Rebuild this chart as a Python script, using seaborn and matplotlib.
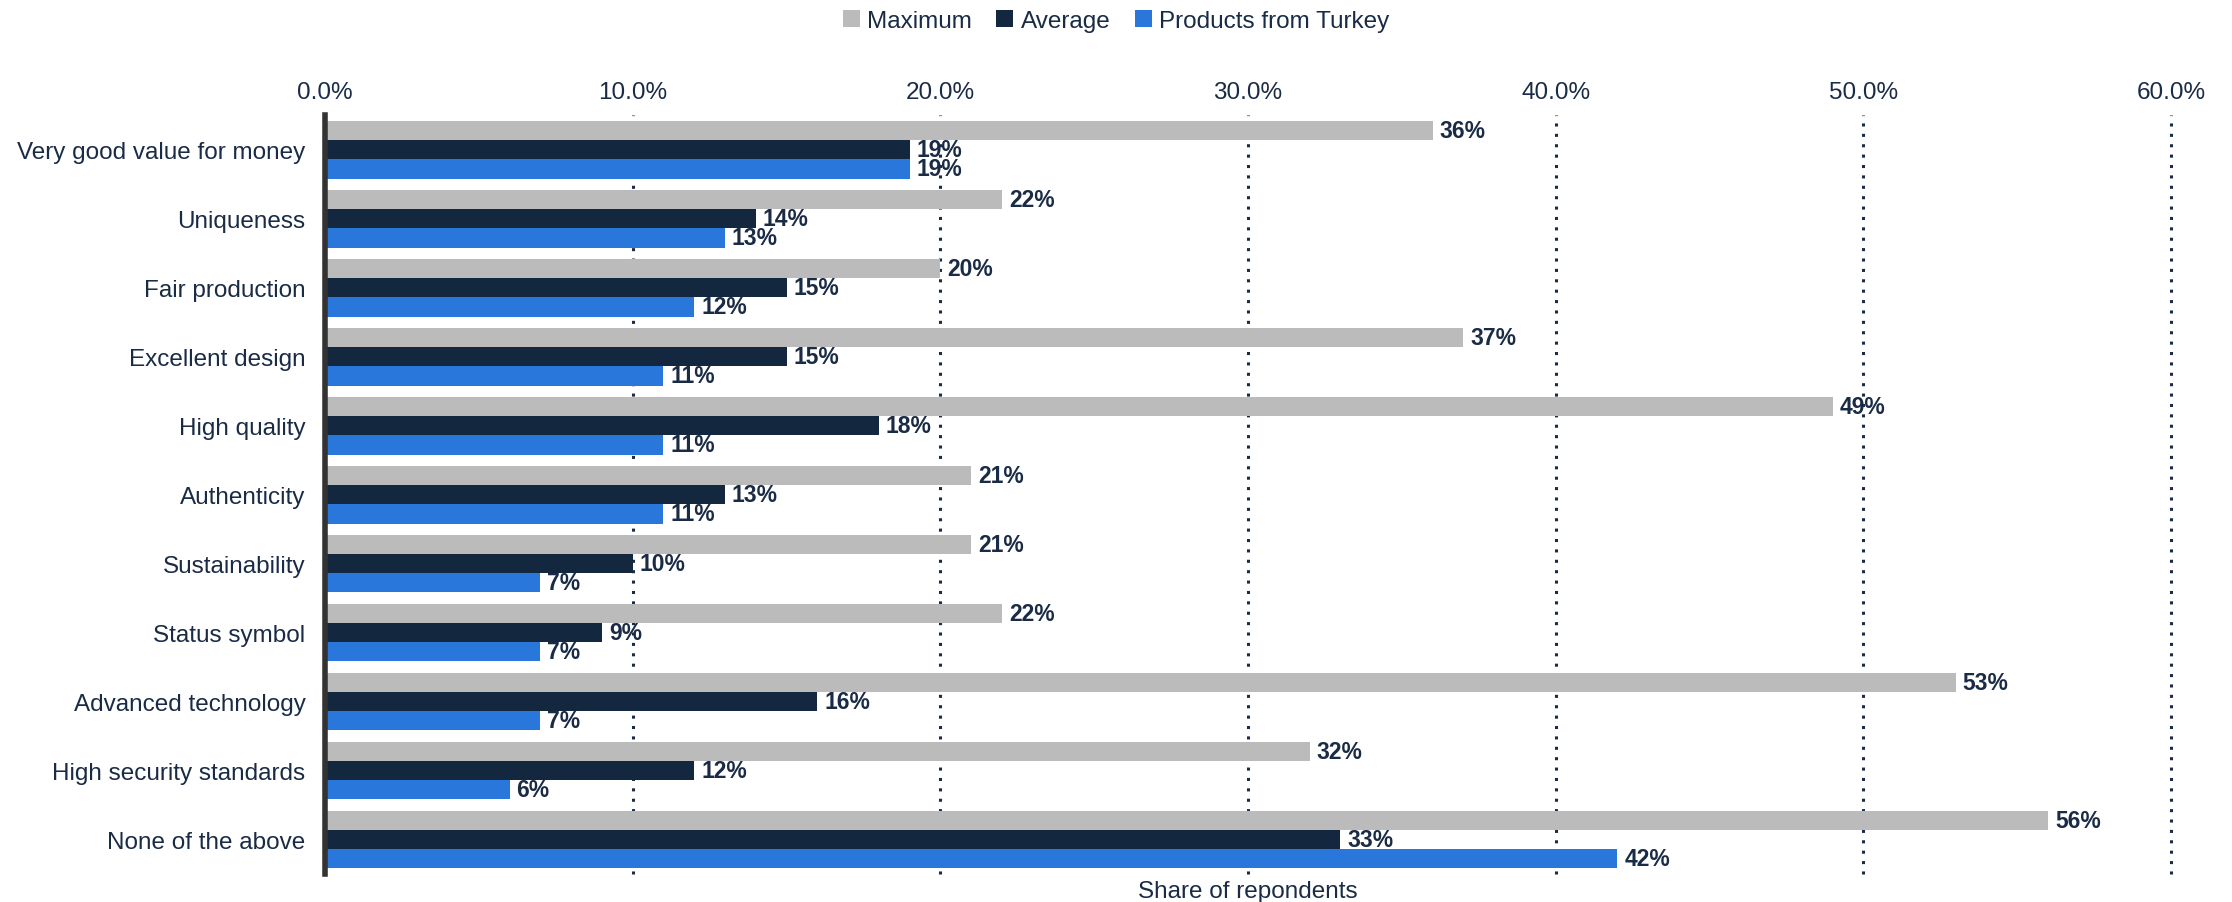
import matplotlib
matplotlib.use("Agg")
import matplotlib.pyplot as plt
import seaborn as sns
import pandas as pd
from matplotlib.ticker import FuncFormatter

categories = ["Very good value for money", "Uniqueness", "Fair production", "Excellent design",
              "High quality", "Authenticity", "Sustainability", "Status symbol",
              "Advanced technology", "High security standards", "None of the above"]
maximum = [36, 22, 20, 37, 49, 21, 21, 22, 53, 32, 56]
average = [19, 14, 15, 15, 18, 13, 10, 9, 16, 12, 33]
turkey = [19, 13, 12, 11, 11, 11, 7, 7, 7, 6, 42]
series_names = ["Maximum", "Average", "Products from Turkey"]
colors = ["#bbbbbb", "#13283f", "#2a77dc"]
xticks = [0, 10, 20, 30, 40, 50, 60]

sns.set_theme(style="white")
plt.rcParams["font.family"] = ["Liberation Sans", "DejaVu Sans"]
text_color = "#1a2b45"

df = pd.DataFrame({
    "category": categories * 3,
    "series": [series_names[0]] * 11 + [series_names[1]] * 11 + [series_names[2]] * 11,
    "value": maximum + average + turkey,
})

fig = plt.figure(figsize=(22.32, 9.03), dpi=100)
ax = fig.add_axes([0.1456, 0.031, 0.9727 - 0.1456, 0.8715 - 0.031])

sns.barplot(data=df, y="category", x="value", hue="series", order=categories,
            hue_order=series_names, palette=colors, width=0.84, orient="h",
            saturation=1, ax=ax, legend=True, linewidth=0)

for cont in ax.containers:
    ax.bar_label(cont, labels=[f"{v:.0f}%" for v in cont.datavalues], padding=5,
                 fontsize=16.5, fontweight="bold", color=text_color)

ax.set_xlim(0, 60)
ax.set_ylim(10.5, -0.5)
ax.set_xticks(xticks)
ax.xaxis.set_major_formatter(FuncFormatter(lambda v, p: f"{v:.1f}%"))
ax.xaxis.tick_top()
ax.xaxis.set_label_position("bottom")
ax.tick_params(axis="x", length=0, pad=9, labelsize=17.5, labelcolor=text_color)
ax.tick_params(axis="y", length=0, pad=14, labelsize=17.5, labelcolor=text_color)
ax.set_xlabel("Share of repondents", fontsize=17.5, color=text_color, labelpad=4)
ax.set_ylabel("")

ax.grid(False)
for x in xticks[1:]:
    ax.axvline(x, color=text_color, linestyle=(0, (1, 2.4)), linewidth=2.2, zorder=0,
               clip_on=False)

for s in ["top", "right", "bottom"]:
    ax.spines[s].set_visible(False)
ax.spines["left"].set_color("#333333")
ax.spines["left"].set_linewidth(4)

handles, labels = ax.get_legend_handles_labels()
ax.get_legend().remove()
fig.legend(handles, labels, loc="center", bbox_to_anchor=(0.5, 0.976), ncol=3, frameon=False,
           fontsize=17.5, handlelength=0.7, handleheight=0.7, handletextpad=0.3, columnspacing=1.0,
           labelcolor=text_color)

fig.savefig("out.png", dpi=100)
